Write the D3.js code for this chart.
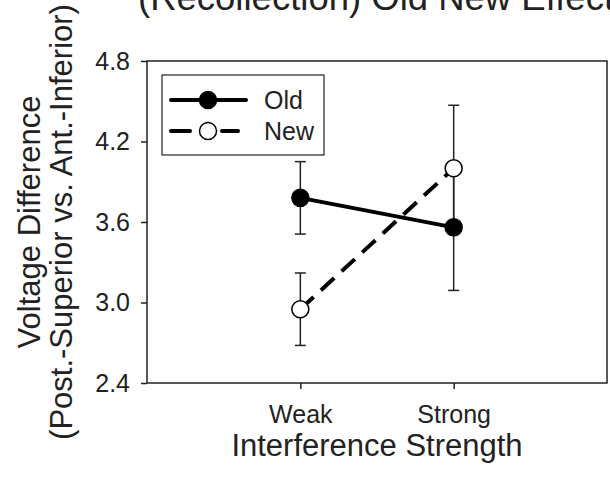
<!DOCTYPE html>
<html>
<head>
<meta charset="utf-8">
<script src="https://cdnjs.cloudflare.com/ajax/libs/d3/7.8.5/d3.min.js"></script>
<style>
  body { margin: 0; background: #fff; }
  svg { display: block; font-family: "Liberation Sans", Arial, sans-serif; }
</style>
</head>
<body>
<div id="chart"></div>
<script>
// DATA
var categories = ["Weak", "Strong"];
var catPos = [1, 2];
var oldValues = [3.78, 3.56];
var oldErr = [0.27, 0.47];
var newValues = [2.95, 4.00];
var newErr = [0.27, 0.47];
var yTicks = [2.4, 3.0, 3.6, 4.2, 4.8];

var svgWidth = 610, svgHeight = 478;
var margin = { top: 61, right: 3, bottom: 95, left: 147 };
var width = svgWidth - margin.left - margin.right;
var height = svgHeight - margin.top - margin.bottom;

var svg = d3.select("#chart")
  .append("svg")
    .attr("width", svgWidth)
    .attr("height", svgHeight);

var chartGroup = svg.append("g")
  .attr("transform", `translate(${margin.left}, ${margin.top})`);

// SCALES
var x = d3.scaleLinear().domain([0, 3]).range([0, width]);
var y = d3.scaleLinear().domain([2.4, 4.8]).range([height, 0]);

// AXES
var yAxis = chartGroup.append("g")
  .call(d3.axisLeft(y).tickValues(yTicks).tickFormat(d3.format(".1f")).tickSize(6).tickSizeOuter(0).tickPadding(11));
var xAxis = chartGroup.append("g")
  .attr("transform", "translate(0," + height + ")")
  .call(d3.axisBottom(x).tickValues(catPos).tickFormat(function(d, i) { return categories[i]; }).tickSize(6).tickSizeOuter(0).tickPadding(16));

[yAxis, xAxis].forEach(function(a) {
  a.select(".domain").remove();
  a.selectAll("line").attr("stroke", "#222").attr("stroke-width", 1.5);
  a.selectAll("text").attr("fill", "#222").attr("font-size", "25px")
    .attr("font-family", "Liberation Sans, Arial, sans-serif");
});

// FRAME
chartGroup.append("rect")
  .attr("width", width)
  .attr("height", height)
  .attr("fill", "none")
  .attr("stroke", "#222")
  .attr("stroke-width", 1.5);

var series = [
  { name: "Old", values: oldValues, err: oldErr, fill: "#000", dash: null },
  { name: "New", values: newValues, err: newErr, fill: "#fff", dash: "18,10" }
];

// ERROR BARS
series.forEach(function(s) {
  var g = chartGroup.append("g");
  catPos.forEach(function(c, i) {
    var cx = x(c), hi = y(s.values[i] + s.err[i]), lo = y(s.values[i] - s.err[i]);
    g.append("line").attr("x1", cx).attr("x2", cx).attr("y1", hi).attr("y2", lo)
      .attr("stroke", "#222").attr("stroke-width", 1.5);
    [hi, lo].forEach(function(yy) {
      g.append("line").attr("x1", cx - 5.5).attr("x2", cx + 5.5).attr("y1", yy).attr("y2", yy)
        .attr("stroke", "#222").attr("stroke-width", 1.5);
    });
  });
});

// LINES
var line = d3.line()
  .x(function(d, i) { return x(catPos[i]); })
  .y(function(d) { return y(d); });

series.forEach(function(s) {
  chartGroup.append("path")
    .datum(s.values)
    .attr("d", line)
    .attr("fill", "none")
    .attr("stroke", "#000")
    .attr("stroke-width", 4)
    .attr("stroke-dasharray", s.dash);
});

// MARKERS
series.forEach(function(s) {
  chartGroup.selectAll(null)
    .data(s.values)
    .enter()
    .append("circle")
      .attr("cx", function(d, i) { return x(catPos[i]); })
      .attr("cy", function(d) { return y(d); })
      .attr("r", 8.5)
      .attr("fill", s.fill)
      .attr("stroke", "#000")
      .attr("stroke-width", 1.5);
});

// LEGEND
var legend = svg.append("g");
legend.append("rect")
  .attr("x", 162).attr("y", 75)
  .attr("width", 162).attr("height", 80)
  .attr("fill", "#fff")
  .attr("stroke", "#222")
  .attr("stroke-width", 1.2);

series.forEach(function(s, i) {
  var ly = 100 + i * 31;
  if (s.dash) {
    legend.append("line").attr("x1", 171).attr("x2", 190).attr("y1", ly).attr("y2", ly)
      .attr("stroke", "#000").attr("stroke-width", 4).attr("stroke-linecap", "round");
    legend.append("line").attr("x1", 222).attr("x2", 238).attr("y1", ly).attr("y2", ly)
      .attr("stroke", "#000").attr("stroke-width", 4).attr("stroke-linecap", "round");
  } else {
    legend.append("line").attr("x1", 171).attr("x2", 246).attr("y1", ly).attr("y2", ly)
      .attr("stroke", "#000").attr("stroke-width", 4).attr("stroke-linecap", "round");
  }
  legend.append("circle").attr("cx", 208).attr("cy", ly).attr("r", 8.5)
    .attr("fill", s.fill).attr("stroke", "#000").attr("stroke-width", 1.5);
  legend.append("text")
    .attr("x", 264).attr("y", ly + 9)
    .attr("font-size", "25px")
    .attr("fill", "#222")
    .text(s.name);
});

// TITLE AND AXIS LABELS
svg.append("text")
  .attr("x", 138).attr("y", 10)
  .attr("font-size", "36.5px")
  .attr("fill", "#222")
  .text("(Recollection) Old New Effect");

svg.append("text")
  .attr("x", margin.left + width / 2).attr("y", 456)
  .attr("text-anchor", "middle")
  .attr("font-size", "31px")
  .attr("fill", "#222")
  .text("Interference Strength");

var yLab = svg.append("text")
  .attr("transform", `translate(0, ${margin.top + height / 2}) rotate(-90)`)
  .attr("text-anchor", "middle")
  .attr("font-size", "31px")
  .attr("fill", "#222");
yLab.append("tspan").attr("x", 0).attr("y", 40).text("Voltage Difference");
yLab.append("tspan").attr("x", 0).attr("y", 72).text("(Post.-Superior vs. Ant.-Inferior)");
</script>
</body>
</html>
